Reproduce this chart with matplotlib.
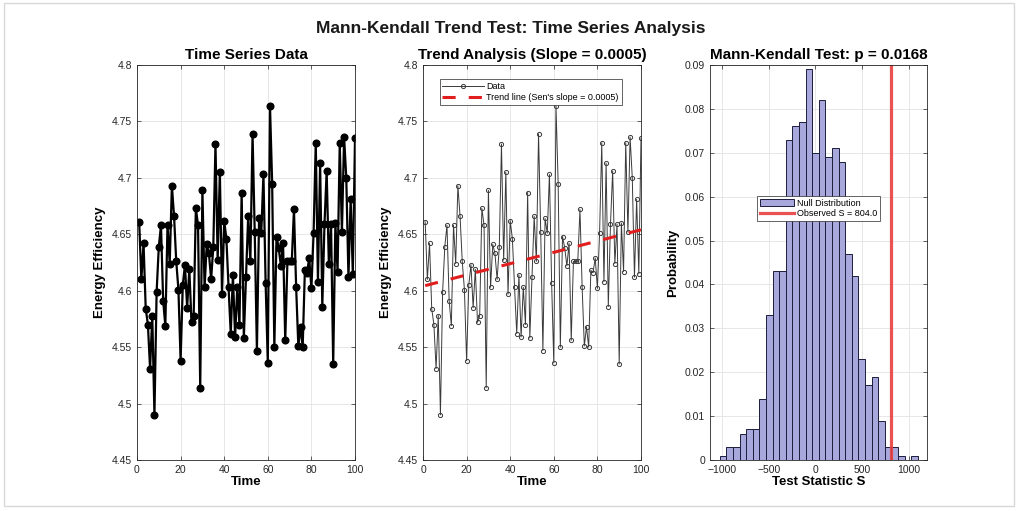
import numpy as np
import matplotlib.pyplot as plt
from matplotlib.ticker import FuncFormatter
from matplotlib.patches import Rectangle

plt.rcParams['font.family'] = ['Liberation Sans', 'DejaVu Sans']

# data
time = np.arange(1, 101)
efficiency = [
    4.661, 4.610, 4.642, 4.584, 4.570, 4.531, 4.578, 4.490, 4.599, 4.639,
    4.658, 4.591, 4.569, 4.658, 4.624, 4.693, 4.666, 4.626, 4.601, 4.538,
    4.605, 4.623, 4.585, 4.619, 4.572, 4.578, 4.673, 4.658, 4.514, 4.689,
    4.603, 4.641, 4.633, 4.610, 4.639, 4.730, 4.627, 4.705, 4.597, 4.662,
    4.646, 4.603, 4.562, 4.614, 4.559, 4.603, 4.570, 4.687, 4.558, 4.612,
    4.666, 4.626, 4.739, 4.652, 4.547, 4.664, 4.651, 4.703, 4.607, 4.536,
    4.764, 4.695, 4.550, 4.648, 4.638, 4.622, 4.642, 4.556, 4.626, 4.626,
    4.626, 4.672, 4.603, 4.551, 4.568, 4.550, 4.618, 4.616, 4.629, 4.602,
    4.651, 4.731, 4.608, 4.713, 4.586, 4.659, 4.706, 4.624, 4.659, 4.535,
    4.660, 4.617, 4.731, 4.652, 4.736, 4.700, 4.612, 4.681, 4.615, 4.735,
]
sen_slope = 0.0005
trend_intercept = 4.604
p_value = 0.0168
observed_s = 804.0

bin_edges = np.linspace(-1025, 1097, 31)
null_prob = [
    0.001, 0.003, 0.003, 0.006, 0.007, 0.007, 0.014, 0.033, 0.043, 0.043,
    0.073, 0.076, 0.077, 0.089, 0.070, 0.082, 0.069, 0.071, 0.068, 0.047,
    0.042, 0.023, 0.017, 0.019, 0.009, 0.003, 0.003, 0.001, 0.000, 0.001,
]

dark = '#262626'


def matlab_style(ax):
    for s in ax.spines.values():
        s.set_color(dark)
        s.set_linewidth(0.6)
    ax.tick_params(direction='in', top=True, right=True, labelsize=7.5,
                   colors=dark, length=3, width=0.5)
    ax.grid(True, color='#e3e3e3', lw=0.6)
    ax.set_axisbelow(True)


fig = plt.figure(figsize=(10.22, 5.11), dpi=100)
W, H = 1022, 511
bottom, height = 1 - 460 / H, 395 / H
ax1 = fig.add_axes([137 / W, bottom, 218 / W, height])
ax2 = fig.add_axes([423 / W, bottom, 218 / W, height])
ax3 = fig.add_axes([710 / W, bottom, 217 / W, height])

fig.suptitle('Mann-Kendall Trend Test: Time Series Analysis', y=0.958,
             fontsize=12.5, fontweight='bold', color='#1a1a1a')

# left: raw series
ax1.plot(time, efficiency, '-o', color='k', lw=1.6, ms=4.8)
ax1.set_title('Time Series Data', fontsize=11, fontweight='bold', pad=4)

# middle: series with trend
ax2.plot(time, efficiency, '-o', color='#3a3a3a', lw=0.7, ms=3,
         mfc='none', mew=0.7, label='Data')
trend = trend_intercept + sen_slope * time
ax2.plot(time, trend, color='#e01e1e', lw=2.2, dashes=(4.3, 4.3),
         label="Trend line (Sen's slope = %.4f)" % sen_slope)
ax2.set_title('Trend Analysis (Slope = %.4f)' % sen_slope, fontsize=11,
              fontweight='bold', pad=4)
leg = ax2.legend(loc='upper left', bbox_to_anchor=(0.055, 0.975), fontsize=6.5,
                 fancybox=False, edgecolor=dark, framealpha=1, handlelength=4.6,
                 borderpad=0.3, labelspacing=0.2, handletextpad=0.3)
leg.get_frame().set_linewidth(0.5)

for ax in (ax1, ax2):
    ax.set_xlim(0, 100)
    ax.set_ylim(4.45, 4.8)
    ax.set_xticks(range(0, 101, 20))
    ax.set_yticks(np.arange(4.45, 4.801, 0.05))
    ax.yaxis.set_major_formatter(FuncFormatter(lambda v, p: '%g' % round(v, 2)))
    ax.set_xlabel('Time', fontsize=9.5, fontweight='bold', labelpad=1)
    ax.set_ylabel('Energy Efficiency', fontsize=9.5, fontweight='bold', labelpad=4)
    matlab_style(ax)

# right: null distribution
bars = ax3.bar(bin_edges[:-1], null_prob, width=np.diff(bin_edges), align='edge',
               color='#a8a8dd', edgecolor='#1c1c3c', lw=0.7)
obs = ax3.axvline(observed_s, color='#e8403f', lw=2.3, alpha=0.9)
ax3.set_xlim(-1130, 1195)
ax3.set_ylim(0, 0.09)
ax3.set_xticks([-1000, -500, 0, 500, 1000])
ax3.set_yticks(np.arange(0, 0.091, 0.01))
ax3.yaxis.set_major_formatter(FuncFormatter(lambda v, p: '%g' % round(v, 2)))
ax3.set_title('Mann-Kendall Test: p = %.4f' % p_value, fontsize=11,
              fontweight='bold', pad=4)
ax3.set_xlabel('Test Statistic S', fontsize=9.5, fontweight='bold', labelpad=1)
ax3.set_ylabel('Probability', fontsize=9.5, fontweight='bold', labelpad=4)
matlab_style(ax3)
leg3 = ax3.legend([bars, obs], ['Null Distribution', 'Observed S = %.1f' % observed_s],
                  loc='upper left', bbox_to_anchor=(0.195, 0.68), fontsize=6.5,
                  fancybox=False, edgecolor=dark, framealpha=1, handlelength=3.8,
                  borderpad=0.3, labelspacing=0.2, handletextpad=0.3)
leg3.get_frame().set_linewidth(0.5)

# light frame around the whole picture
fig.patches.append(Rectangle((0.004, 0.01), 0.988, 0.985, transform=fig.transFigure,
                             fill=False, edgecolor='#d8d8d8', lw=1))

fig.savefig('out.png', dpi=100)
